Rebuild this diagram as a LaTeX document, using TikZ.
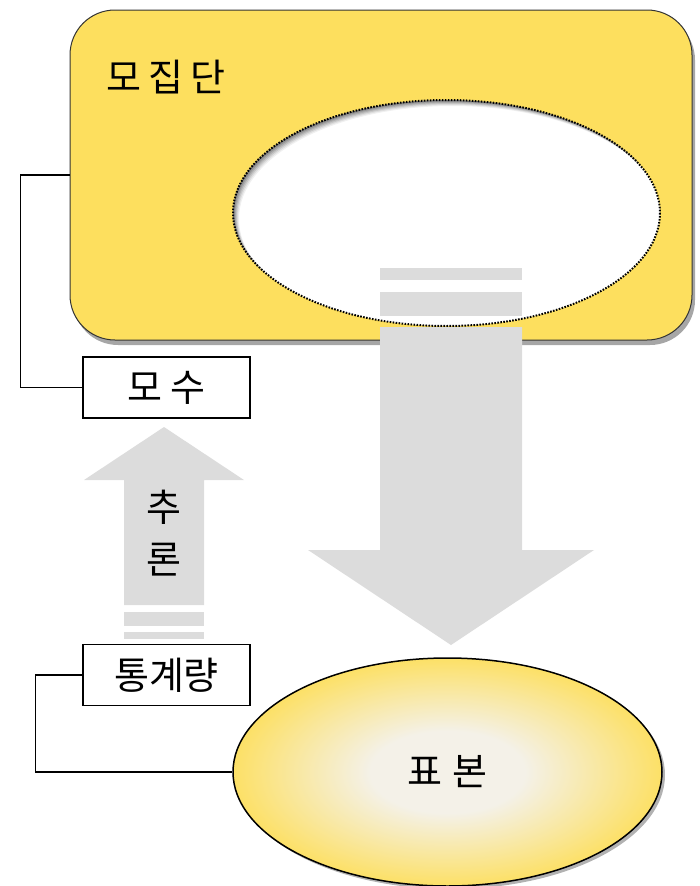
\documentclass[tikz,border=0pt]{standalone}
\usepackage{fontspec}
\setmainfont{Noto Sans CJK KR}
\usetikzlibrary{shadows,shapes.geometric}
\definecolor{popyellow}{HTML}{FDDF5E}
\definecolor{arrowgray}{HTML}{DCDCDC}
\definecolor{cream}{HTML}{F4F1E8}
\pgfdeclareradialshading{sampleshade}{\pgfpoint{0bp}{0bp}}{color(0bp)=(cream); color(9bp)=(cream); color(26bp)=(popyellow); color(50bp)=(popyellow)}
\begin{document}
\begin{tikzpicture}[x=1pt,y=-1pt,
  bigfont/.style={font=\fontsize{38}{44}\selectfont},
  labelbox/.style={draw=black, line width=1.3pt, fill=white, minimum width=167pt, minimum height=61pt, inner sep=0pt, bigfont},
  link/.style={draw=black, line width=1.3pt},
  bigarrow/.style={fill=arrowgray, draw=none}]
\useasboundingbox (0,0) rectangle (700,886);

% population
\node[draw=black!80, line width=1pt, fill=popyellow, rounded corners=45pt,
      minimum width=622pt, minimum height=330pt,
      drop shadow={shadow xshift=3pt, shadow yshift=-5pt, fill=black, opacity=0.35}] (pop) at (381,175) {};
\node[bigfont, anchor=center] (poplabel) at (166,77) {모\hspace{7pt}집\hspace{7pt}단};

% inner (sample region) ellipse
\node[ellipse, fill=white, minimum width=427pt, minimum height=226pt, inner sep=0pt] (inner) at (446.5,213) {};
\begin{scope}
  \clip (inner.center) ellipse [x radius=213.5, y radius=113];
  \foreach \s/\o in {1/0.16,2/0.14,3/0.12,4/0.10,5/0.08,6/0.06}{
    \fill[black, opacity=\o, even odd rule] (0,0) rectangle (700,886)
      ([shift={(\s,\s)}]inner.center) ellipse [x radius=213.5, y radius=113];
  }
\end{scope}
\draw[black, line width=2pt, dash pattern=on 1.6pt off 1.4pt] (inner.center) ellipse [x radius=213.5, y radius=113];

% down arrow (sampling)
\fill[bigarrow] (380,268) rectangle (522,280);
\fill[bigarrow] (380,292) rectangle (522,316);
\fill[bigarrow] (380,327) -- (522,327) -- (522,550) -- (594,550) -- (451,645) -- (308,550) -- (380,550) -- cycle;

% sample
\node[ellipse, draw=black, line width=1.5pt, shading=sampleshade,
      minimum width=429pt, minimum height=228pt, inner sep=0pt,
      drop shadow={shadow xshift=3pt, shadow yshift=-3pt, fill=black, opacity=0.3}] (sample) at (447.5,772) {};
\node[bigfont] (samplelabel) at (sample.center) {표\hspace{10pt}본};

% parameter / statistic boxes
\node[labelbox] (param) at (166.5,387.5) {모\hspace{9pt}수};
\node[labelbox] (stat) at (166.5,675) {통계량};

% up arrow (inference)
\fill[bigarrow] (124,632) rectangle (204,639);
\fill[bigarrow] (124,612) rectangle (204,626);
\fill[bigarrow] (124,605) -- (124,480) -- (84,480) -- (164,427) -- (244,480) -- (204,480) -- (204,605) -- cycle;
\node[bigfont, align=center, inner sep=0pt] (infer) at (164,533) {추\\[8pt]론};

% connectors
\draw[link] (pop.west) -- ++(-49,0) |- (param.west);
\draw[link] (stat.west) -- ++(-47,0) |- (sample.west);
\end{tikzpicture}
\end{document}
